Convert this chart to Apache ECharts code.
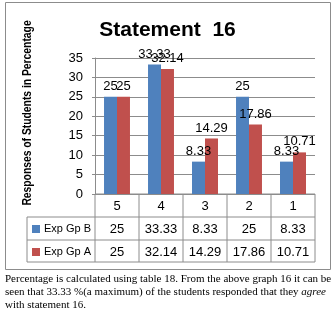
<!DOCTYPE html>
<html>
<head>
<meta charset="utf-8">
<script src="https://cdn.jsdelivr.net/npm/echarts@6/dist/echarts.min.js"></script>
<style>
  html, body { margin: 0; padding: 0; background: #fff; }
  #chart { width: 335px; height: 315px; }
</style>
</head>
<body>
<div id="chart"></div>
<script>
// data
const categories = ['5', '4', '3', '2', '1']
const expGpB = [25, 33.33, 8.33, 25, 8.33]
const expGpA = [25, 32.14, 14.29, 17.86, 10.71]
const seriesNames = ['Exp Gp B', 'Exp Gp A']
const yTicks = { min: 0, max: 35, interval: 5 }

// layout
const G = { left: 95, top: 58, width: 220, height: 136 }
const ROW = 23
const LEG_LEFT = 27
const lineColor = '#8c8c8c'
const colors = ['#4f81bd', '#c0504d']

const chart = echarts.init(document.getElementById('chart'))

const gBottom = G.top + G.height
const gRight = G.left + G.width
const colW = G.width / categories.length

// table lines
const tableLines = []
const hLines = [[G.left, gBottom], [LEG_LEFT, gBottom + ROW], [LEG_LEFT, gBottom + 2 * ROW], [LEG_LEFT, gBottom + 3 * ROW - 1]]
hLines.forEach(function (h) {
  tableLines.push({ type: 'line', silent: true, shape: { x1: h[0], y1: h[1], x2: gRight, y2: h[1] }, style: { stroke: lineColor, lineWidth: 1 } })
})
for (let i = 0; i <= categories.length; i++) {
  const x = G.left + i * colW
  tableLines.push({ type: 'line', silent: true, shape: { x1: x, y1: gBottom, x2: x, y2: gBottom + 3 * ROW - 1 }, style: { stroke: lineColor, lineWidth: 1 } })
}
tableLines.push({ type: 'line', silent: true, shape: { x1: LEG_LEFT, y1: gBottom + ROW, x2: LEG_LEFT, y2: gBottom + 3 * ROW - 1 }, style: { stroke: lineColor, lineWidth: 1 } })

const cellFont = { fontSize: 13, fontFamily: 'Liberation Sans', color: '#000' }

function valueAxis (vals, idx) {
  return {
    type: 'category',
    data: categories,
    gridIndex: 0,
    position: 'bottom',
    offset: ROW * idx,
    axisLine: { show: false },
    axisTick: { show: false },
    axisLabel: Object.assign({
      interval: 0,
      hideOverlap: false,
      margin: 6,
      formatter: function (v, i) { return String(vals[i]) }
    }, cellFont)
  }
}

const option = {
  animation: false,
  color: colors,
  title: {
    text: 'Statement  16',
    left: 'center',
    top: 15,
    textStyle: { fontSize: 21, fontWeight: 'bold', fontFamily: 'Liberation Sans', color: '#000' }
  },
  legend: {
    data: seriesNames,
    orient: 'vertical',
    left: LEG_LEFT + 5,
    top: gBottom + ROW + 5,
    padding: 0,
    itemWidth: 8,
    itemHeight: 8,
    itemGap: 9,
    icon: 'rect',
    textStyle: { fontSize: 11, fontFamily: 'Liberation Sans', color: '#000', lineHeight: 14, padding: [0, 0, 0, -1] }
  },
  grid: { left: G.left, top: G.top, width: G.width, height: G.height },
  xAxis: [
    {
      type: 'category',
      data: categories,
      axisLine: { show: false },
      axisTick: { show: false },
      axisLabel: Object.assign({ interval: 0, margin: 6 }, cellFont)
    },
    valueAxis(expGpB, 1),
    valueAxis(expGpA, 2)
  ],
  yAxis: {
    type: 'value',
    min: yTicks.min,
    max: yTicks.max,
    interval: yTicks.interval,
    axisLine: { show: true, lineStyle: { color: lineColor } },
    axisTick: { show: true, length: 3, lineStyle: { color: lineColor } },
    axisLabel: { fontSize: 13, fontFamily: 'Liberation Sans', color: '#000', margin: 12 },
    splitLine: { lineStyle: { color: lineColor } }
  },
  series: [
    {
      name: seriesNames[0],
      type: 'bar',
      data: expGpB,
      barGap: '0%',
      barCategoryGap: '41%',
      label: { show: true, position: 'top', distance: 4, fontSize: 13, fontFamily: 'Liberation Sans', color: '#000' }
    },
    {
      name: seriesNames[1],
      type: 'bar',
      data: expGpA,
      label: { show: true, position: 'top', distance: 4, fontSize: 13, fontFamily: 'Liberation Sans', color: '#000' }
    }
  ],
  graphic: tableLines.concat([
    {
      type: 'rect',
      silent: true,
      shape: { x: 5.5, y: 2.5, width: 325, height: 267 },
      style: { fill: 'none', stroke: '#8c8c8c', lineWidth: 1 }
    },
    {
      type: 'text',
      silent: true,
      x: 28,
      y: 113,
      rotation: Math.PI / 2,
      scaleX: 0.86,
      style: {
        text: 'Responses of Students in Percentage',
        font: 'bold 12px Liberation Sans',
        fill: '#000',
        align: 'center',
        verticalAlign: 'middle'
      }
    },
    {
      type: 'text',
      silent: true,
      x: 5,
      y: 273,
      style: {
        text: 'Percentage is calculated using table 18. From the above graph 16 it can be\nseen that 33.33 %(a maximum) of the students responded that they {i|agree}\nwith statement 16.',
        font: '11px Liberation Serif',
        fill: '#000',
        lineHeight: 13,
        rich: { i: { fontStyle: 'italic', fontFamily: 'Liberation Serif', fontSize: 11 } }
      }
    }
  ])
}

chart.setOption(option)
</script>
</body>
</html>
